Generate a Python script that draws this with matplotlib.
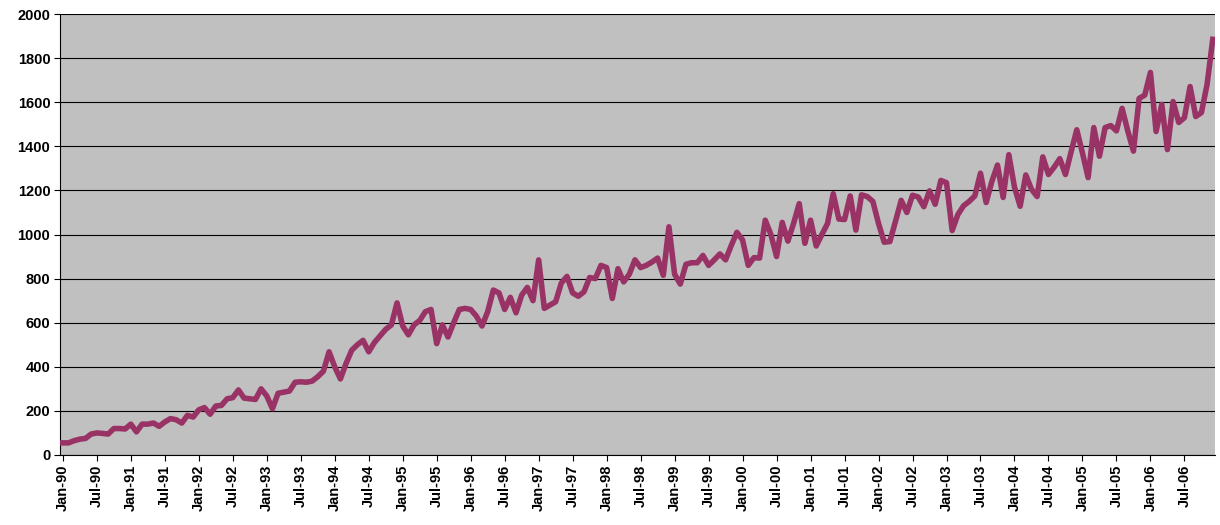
import matplotlib
matplotlib.use("Agg")
import matplotlib.pyplot as plt
import numpy as np

plt.rcParams['font.family'] = ['Liberation Sans', 'DejaVu Sans']

# Monthly values Jan-90 .. Dec-06
values_1990 = [55, 55, 65, 72, 75, 95, 100, 98, 95, 120, 120, 118]
values_1991 = [140, 105, 140, 140, 145, 130, 150, 165, 160, 145, 180, 172]
values_1992 = [205, 215, 185, 222, 225, 255, 260, 295, 258, 255, 252, 300]
values_1993 = [268, 210, 280, 285, 290, 330, 332, 330, 335, 355, 380, 468]
values_1994 = [400, 345, 415, 475, 500, 520, 468, 510, 540, 570, 590, 690]
values_1995 = [585, 545, 590, 610, 650, 660, 505, 590, 535, 600, 660, 665]
values_1996 = [660, 630, 585, 650, 748, 735, 660, 715, 645, 725, 760, 700]
values_1997 = [885, 665, 680, 695, 780, 810, 735, 720, 740, 805, 800, 860]
values_1998 = [850, 710, 845, 785, 820, 885, 850, 860, 875, 893, 815, 1035]
values_1999 = [820, 775, 865, 872, 872, 905, 860, 885, 912, 885, 950, 1010]
values_2000 = [975, 860, 895, 893, 1065, 1000, 900, 1055, 970, 1050, 1140, 960]
values_2001 = [1065, 948, 1000, 1050, 1185, 1070, 1068, 1175, 1020, 1180, 1172, 1150]
values_2002 = [1050, 965, 968, 1060, 1155, 1100, 1178, 1170, 1126, 1198, 1137, 1245]
values_2003 = [1235, 1018, 1090, 1130, 1150, 1175, 1278, 1145, 1240, 1315, 1168, 1362]
values_2004 = [1215, 1128, 1270, 1205, 1172, 1352, 1272, 1305, 1344, 1272, 1375, 1475]
values_2005 = [1370, 1258, 1485, 1355, 1485, 1494, 1470, 1572, 1470, 1378, 1617, 1632]
values_2006 = [1735, 1467, 1590, 1385, 1603, 1508, 1530, 1671, 1535, 1553, 1680, 1885]

years = list(range(1990, 2007))
months = ['Jan', 'Feb', 'Mar', 'Apr', 'May', 'Jun', 'Jul', 'Aug', 'Sep', 'Oct', 'Nov', 'Dec']
categories = [f"{m}-{y % 100:02d}" for y in years for m in months]
values = (values_1990 + values_1991 + values_1992 + values_1993 + values_1994 +
          values_1995 + values_1996 + values_1997 + values_1998 + values_1999 +
          values_2000 + values_2001 + values_2002 + values_2003 + values_2004 +
          values_2005 + values_2006)

y_ticks = list(range(0, 2001, 200))

fig = plt.figure(figsize=(12.2, 5.25), dpi=100)
ax = fig.add_axes([60 / 1220, 1 - 455 / 525, 1155 / 1220, 441 / 525])
ax.set_facecolor('#C0C0C0')

x = np.arange(len(values))
ax.plot(x, values, color='#993366', linewidth=4.0, solid_joinstyle='round', zorder=3)

ax.set_ylim(0, 2000)
ax.set_yticks(y_ticks)
ax.set_yticklabels([str(v) for v in y_ticks], fontsize=10.5, fontweight='bold')
ax.yaxis.grid(True, color='black', linewidth=0.8)
ax.set_axisbelow(True)

ax.set_xlim(-0.5, len(values) - 0.6)
tick_pos = x[::6]
ax.set_xticks(tick_pos)
ax.set_xticklabels([categories[i] for i in tick_pos], rotation=90, fontsize=10.5, fontweight='bold')

for s in ['top', 'right']:
    ax.spines[s].set_visible(False)
ax.spines['left'].set_color('black')
ax.spines['bottom'].set_color('black')
ax.tick_params(axis='both', direction='out', length=4, width=0.8, colors='black', pad=3)

fig.savefig('out.png', dpi=100, facecolor='white')
